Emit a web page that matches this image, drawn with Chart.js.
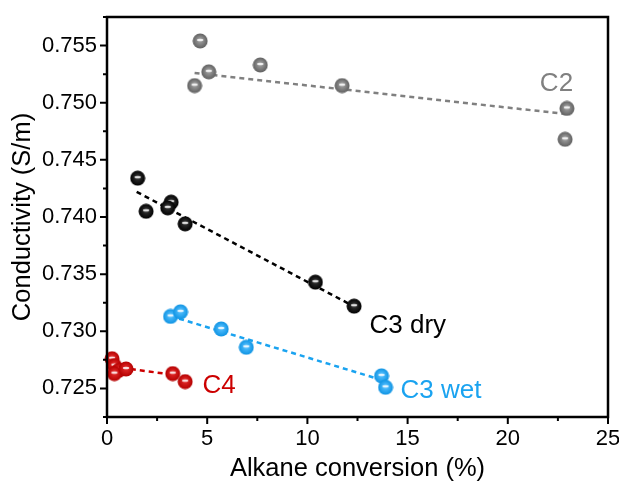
<!DOCTYPE html>
<html>
<head>
<meta charset="utf-8">
<title>Conductivity vs alkane conversion</title>
<script src="https://cdn.jsdelivr.net/npm/chart.js@4.4.1/dist/chart.umd.min.js"></script>
<style>
  html, body { margin: 0; padding: 0; background: #fff; }
</style>
</head>
<body>
<canvas id="condChart" width="619" height="490"></canvas>
<script>
// values: alkane conversion (%) vs conductivity (S/m)
var c2X = [4.65, 5.08, 4.37, 7.65, 11.73, 22.95, 22.86];
var c2Y = [0.7554, 0.7527, 0.7515, 0.7533, 0.7515, 0.7495, 0.7468];
var c2FitX = [4.37, 22.95];
var c2FitY = [0.7526, 0.7490];

var c3dryX = [1.53, 1.95, 3.20, 3.03, 3.90, 10.40, 12.33];
var c3dryY = [0.7434, 0.7405, 0.7413, 0.7408, 0.7394, 0.7343, 0.7322];
var c3dryFitX = [1.48, 12.30];
var c3dryFitY = [0.7422, 0.7322];

var c3wetX = [3.17, 3.67, 5.70, 6.95, 13.70, 13.90];
var c3wetY = [0.7313, 0.7317, 0.7302, 0.7286, 0.7261, 0.7251];
var c3wetFitX = [3.60, 13.60];
var c3wetFitY = [0.7311, 0.7258];

var c4X = [0.25, 0.37, 0.60, 0.37, 0.95, 3.28, 3.90];
var c4Y = [0.7276, 0.7270, 0.7266, 0.7263, 0.7267, 0.7263, 0.7256];
var c4FitX = [0.30, 3.30];
var c4FitY = [0.7269, 0.7262];

var xTicks = [0, 5, 10, 15, 20, 25];
var yTicks = [0.725, 0.730, 0.735, 0.740, 0.745, 0.750, 0.755];

// series labels written inside the plot (text, x, y in data units)
var seriesNames = ['C2', 'C3 dry', 'C3 wet', 'C4'];
var nameX = [21.6, 13.1, 14.65, 4.76];
var nameY = [0.7510, 0.72985, 0.72419, 0.72463];

var colGray = '#808080';
var colBlack = '#000000';
var colBlue = '#1aa3f0';
var colRed = '#cc0000';
var nameColors = [colGray, colBlack, colBlue, colRed];

var fontFam = '"Liberation Sans", Arial, sans-serif';

function pts(xs, ys) {
  var out = [];
  for (var i = 0; i < xs.length; i++) out.push({x: xs[i], y: ys[i]});
  return out;
}

// little shaded ball used as point style
function ball(base, dark) {
  var r = 7.5;
  var c = document.createElement('canvas');
  c.width = 16;
  c.height = 16;
  var g = c.getContext('2d');
  var grad = g.createRadialGradient(8, 7, 1, 8, 8, r);
  grad.addColorStop(0, base);
  grad.addColorStop(1, dark);
  g.fillStyle = grad;
  g.beginPath();
  g.arc(8, 8, r, 0, Math.PI * 2);
  g.fill();
  g.fillStyle = 'rgba(255,255,255,0.85)';
  g.beginPath();
  g.ellipse(8, 7, 3.2, 1.3, 0, 0, Math.PI * 2);
  g.fill();
  return c;
}

function scatterSet(label, xs, ys, img) {
  return {
    label: label,
    data: pts(xs, ys),
    pointStyle: img,
    pointRadius: 8,
    clip: false,
    showLine: false
  };
}

function fitSet(label, xs, ys, color) {
  return {
    label: label,
    data: pts(xs, ys),
    showLine: true,
    borderColor: color,
    borderWidth: 2.5,
    borderDash: [5, 4],
    pointRadius: 0,
    fill: false
  };
}

var frameTicks = {
  id: 'frameTicks',
  afterDraw: function(chart) {
    var ctx = chart.ctx;
    var a = chart.chartArea;
    var xs = chart.scales.x, ys = chart.scales.y;
    ctx.save();
    ctx.strokeStyle = '#000';
    ctx.lineWidth = 2;
    ctx.beginPath();
    xs.ticks.forEach(function(t) {
      var px = xs.getPixelForValue(t.value);
      var major = Math.abs(Math.round(t.value * 2) % 10) === 0;
      ctx.moveTo(px, a.bottom);
      ctx.lineTo(px, a.bottom + (major ? 7 : 4));
    });
    ys.ticks.forEach(function(t) {
      var py = ys.getPixelForValue(t.value);
      var major = Math.round(t.value * 10000) % 50 === 0;
      ctx.moveTo(a.left, py);
      ctx.lineTo(a.left - (major ? 7 : 4), py);
    });
    ctx.stroke();
    ctx.lineWidth = 2.5;
    ctx.strokeRect(a.left, a.top, a.right - a.left, a.bottom - a.top);
    ctx.font = '26px ' + fontFam;
    ctx.textAlign = 'left';
    ctx.textBaseline = 'alphabetic';
    for (var i = 0; i < seriesNames.length; i++) {
      ctx.fillStyle = nameColors[i];
      ctx.fillText(seriesNames[i], xs.getPixelForValue(nameX[i]), ys.getPixelForValue(nameY[i]));
    }
    ctx.restore();
  }
};

var ctx = document.getElementById('condChart').getContext('2d');
var condChart = new Chart(ctx, {
  type: 'scatter',
  data: {
    datasets: [
      scatterSet('C2', c2X, c2Y, ball('#a0a0a0', '#606060')),
      scatterSet('C3 dry', c3dryX, c3dryY, ball('#333333', '#000000')),
      scatterSet('C3 wet', c3wetX, c3wetY, ball('#55c0ff', '#0e93e3')),
      scatterSet('C4', c4X, c4Y, ball('#e22a2a', '#b40000')),
      fitSet('C2 fit', c2FitX, c2FitY, colGray),
      fitSet('C3 dry fit', c3dryFitX, c3dryFitY, colBlack),
      fitSet('C3 wet fit', c3wetFitX, c3wetFitY, colBlue),
      fitSet('C4 fit', c4FitX, c4FitY, colRed)
    ]
  },
  options: {
    responsive: false,
    devicePixelRatio: 1,
    animation: false,
    layout: { padding: { top: 17, right: 11, left: 0, bottom: 0 } },
    plugins: {
      legend: { display: false },
      tooltip: { enabled: false }
    },
    scales: {
      x: {
        type: 'linear',
        min: 0,
        max: 25,
        grid: { display: false, drawTicks: false },
        border: { display: false },
        ticks: {
          stepSize: 2.5,
          padding: 9,
          color: '#000',
          maxRotation: 0,
          autoSkip: false,
          font: { family: fontFam, size: 22 },
          callback: function(v) {
            return xTicks.indexOf(Math.round(v * 100) / 100) >= 0 ? String(Math.round(v)) : '';
          }
        },
        title: {
          display: true,
          text: 'Alkane conversion (%)',
          color: '#000',
          padding: { top: 0, bottom: 6 },
          font: { family: fontFam, size: 25.5 }
        },
        afterFit: function(s) {
          s.height = 73;
          s.paddingLeft = 0;
          s.paddingRight = 0;
        }
      },
      y: {
        type: 'linear',
        min: 0.7225,
        max: 0.7575,
        grid: { display: false, drawTicks: false },
        border: { display: false },
        ticks: {
          stepSize: 0.0025,
          padding: 10,
          color: '#000',
          autoSkip: false,
          font: { family: fontFam, size: 22 },
          callback: function(v) {
            var r = Math.round(v * 1000) / 1000;
            var ok = yTicks.some(function(t) { return Math.abs(t - v) < 1e-6; });
            return ok ? r.toFixed(3) : '';
          }
        },
        title: {
          display: true,
          text: 'Conductivity (S/m)',
          color: '#000',
          padding: { top: 8, bottom: 0 },
          font: { family: fontFam, size: 25.5 }
        },
        afterFit: function(s) {
          s.width = 107;
          s.paddingTop = 0;
          s.paddingBottom = 0;
        }
      }
    }
  },
  plugins: [frameTicks]
});
</script>
</body>
</html>
